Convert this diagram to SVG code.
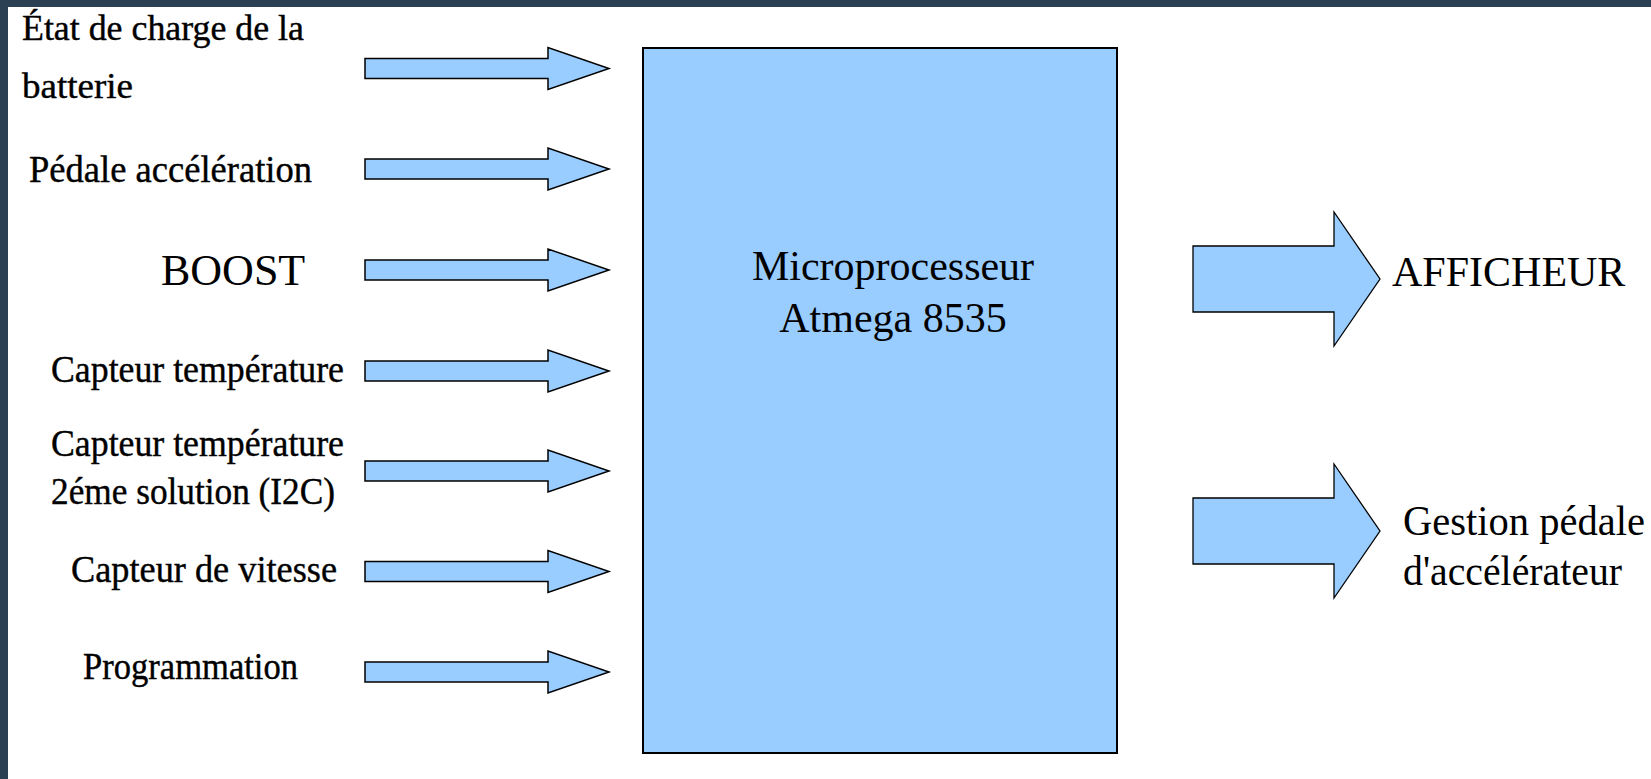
<svg xmlns="http://www.w3.org/2000/svg" width="1651" height="779" viewBox="0 0 1651 779">
<style>
.lbl{font-family:"Liberation Serif","Times New Roman",serif;font-size:37px;fill:#000;stroke:#000;stroke-width:0.4}
.big{font-family:"Liberation Serif","Times New Roman",serif;font-size:42px;fill:#000}
.sa{fill:#99ccff;stroke:#000;stroke-width:1.5;stroke-linejoin:miter}
.ba{fill:#99ccff;stroke:#000;stroke-width:1.3;stroke-linejoin:miter}
</style>
<defs>
<path id="small" d="M0,-10 H183 V-21 L244,0 L183,21 V10 H0 Z"/>
<path id="bigarrow" d="M0,-33 H141 V-67 L187,0 L141,67 V33 H0 Z"/>
</defs>
<rect x="0" y="0" width="1651" height="779" fill="#ffffff"/>
<rect x="0" y="0" width="1651" height="7" fill="#2b4053"/>
<rect x="0" y="0" width="8" height="779" fill="#2b4053"/>

<g id="microprocesseur">
<rect x="643" y="48" width="474" height="705" fill="#99ccff" stroke="#000" stroke-width="2"/>
<text class="big" x="893" y="280" text-anchor="middle">Microprocesseur</text>
<text class="big" x="893" y="332" text-anchor="middle">Atmega 8535</text>
</g>

<g id="in-batterie"><text class="lbl" x="22" y="40" style="font-size:35px" textLength="282" lengthAdjust="spacingAndGlyphs">État de charge de la</text><text class="lbl" x="22" y="98" style="font-size:35px" textLength="111" lengthAdjust="spacingAndGlyphs">batterie</text></g>
<g id="in-pedale"><text class="lbl" x="29" y="182" textLength="283" lengthAdjust="spacingAndGlyphs">Pédale accélération</text></g>
<g id="in-boost"><text class="big" x="161" y="285" style="font-size:44px">BOOST</text></g>
<g id="in-temp"><text class="lbl" x="51" y="382" textLength="293" lengthAdjust="spacingAndGlyphs">Capteur température</text></g>
<g id="in-temp2"><text class="lbl" x="51" y="456" textLength="293" lengthAdjust="spacingAndGlyphs">Capteur température</text><text class="lbl" x="51" y="504" textLength="284" lengthAdjust="spacingAndGlyphs">2éme solution (I2C)</text></g>
<g id="in-vitesse"><text class="lbl" x="71" y="582" textLength="266" lengthAdjust="spacingAndGlyphs">Capteur de vitesse</text></g>
<g id="in-prog"><text class="lbl" x="83" y="679" textLength="215" lengthAdjust="spacingAndGlyphs">Programmation</text></g>

<g id="out-afficheur"><text class="big" x="1392" y="286">AFFICHEUR</text></g>
<g id="out-gestion"><text class="big" x="1403" y="535" textLength="242" lengthAdjust="spacingAndGlyphs">Gestion pédale</text><text class="big" x="1403" y="585" textLength="219" lengthAdjust="spacingAndGlyphs">d'accélérateur</text></g>

<g id="connectors">
<use href="#small" class="sa" x="365" y="68.5"/>
<use href="#small" class="sa" x="365" y="169"/>
<use href="#small" class="sa" x="365" y="270"/>
<use href="#small" class="sa" x="365" y="371"/>
<use href="#small" class="sa" x="365" y="471"/>
<use href="#small" class="sa" x="365" y="571.5"/>
<use href="#small" class="sa" x="365" y="672"/>
<use href="#bigarrow" class="ba" x="1193" y="279"/>
<use href="#bigarrow" class="ba" x="1193" y="531"/>
</g>
</svg>
